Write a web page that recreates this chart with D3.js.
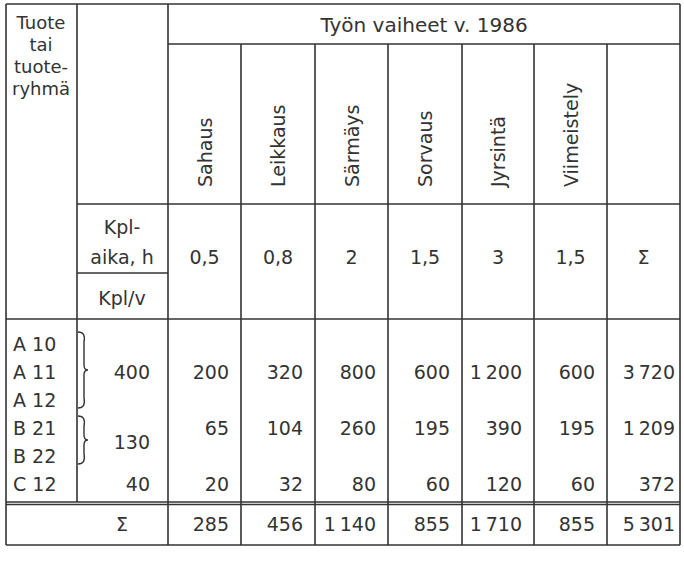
<!DOCTYPE html>
<html>
<head>
    <script src="https://d3js.org/d3.v7.min.js"></script>
    <style>
        body { margin: 0; background: white; }
        text { font-family: "DejaVu Sans", Arial, sans-serif; fill: #333; font-size: 19px; }
        line { stroke: #333; stroke-width: 1.6px; }
    </style>
</head>
<body>
    <script>
        // data
        const phases = ['Sahaus', 'Leikkaus', 'Särmäys', 'Sorvaus', 'Jyrsintä', 'Viimeistely'];
        const unitTimes = ['0,5', '0,8', '2', '1,5', '3', '1,5'];
        const products = ['A 10', 'A 11', 'A 12', 'B 21', 'B 22', 'C 12'];
        const groups = [
            { qty: 400, rows: [0, 2], values: [200, 320, 800, 600, 1200, 600], total: 3720 },
            { qty: 130, rows: [3, 4], values: [65, 104, 260, 195, 390, 195], total: 1209 },
            { qty: 40, rows: [5, 5], values: [20, 32, 80, 60, 120, 60], total: 372 }
        ];
        const sums = [285, 456, 1140, 855, 1710, 855];
        const grandTotal = 5301;

        const width = 684, height = 562;
        const fmt = v => d3.format(',')(v).replace(/,/g, '\u2009');

        const svg = d3.select('body').append('svg')
            .attr('width', width).attr('height', height);

        // column edges
        const colEdges = [168, 241, 315, 388, 462, 534, 607, 680];
        const x = i => (colEdges[i] + colEdges[i + 1]) / 2;
        const L = 6, C1 = 77, T = 4, B = 545;
        const yHead = 44, yMid = 204, yKpl = 273, yData = 319, ySum = 502;
        const rowY = d3.scaleLinear().domain([0, 5]).range([344, 484]);

        const lines = [
            [L, T, 680, T], [L, B, 680, B], [L, T, L, B], [680, T, 680, B],
            [C1, T, C1, ySum], [168, T, 168, B],
            [168, yHead, 680, yHead], [C1, yMid, 680, yMid],
            [C1, yKpl, 168, yKpl], [L, yData, 680, yData],
            [L, ySum, 680, ySum], [L, ySum + 2.5, 680, ySum + 2.5]
        ];
        colEdges.slice(1, -1).forEach(c => lines.push([c, yHead, c, B]));
        svg.selectAll('line').data(lines).enter().append('line')
            .attr('x1', d => d[0]).attr('y1', d => d[1])
            .attr('x2', d => d[2]).attr('y2', d => d[3]);

        const txt = (s, tx, ty, anchor) => svg.append('text')
            .attr('x', tx).attr('y', ty).attr('text-anchor', anchor || 'middle').text(s);

        ['Tuote', 'tai', 'tuote-', 'ryhmä'].forEach((s, i) => txt(s, 41, 29 + i * 22).style('font-size', '18px'));
        txt('Työn vaiheet v. 1986', 424, 32).style('font-size', '20px');

        phases.forEach((p, i) => svg.append('text')
            .attr('transform', `translate(${x(i) + 7},187) rotate(-90)`)
            .text(p));
        unitTimes.concat(['Σ']).forEach((u, i) => txt(u, x(i), 264));
        txt('Kpl-', 122, 234);
        txt('aika, h', 122, 264);
        txt('Kpl/v', 122, 305);

        products.forEach((p, i) => txt(p, 13, rowY(i) + 7, 'start'));

        groups.forEach(g => {
            const yc = (rowY(g.rows[0]) + rowY(g.rows[1])) / 2 + 7;
            txt(g.qty, 150, yc, 'end');
            g.values.concat([g.total]).forEach((v, i) =>
                txt(fmt(v), colEdges[i + 1] - (i === 6 ? 5 : 12), g.rows[0] === 3 ? rowY(3) + 7 : yc, 'end'));
            if (g.rows[0] !== g.rows[1]) {
                const y0 = rowY(g.rows[0]) - 12, y1 = rowY(g.rows[1]) + 8, ym = (y0 + y1) / 2;
                svg.append('path')
                    .attr('d', `M78,${y0} Q86,${y0} 84,${y0 + 10} L84,${ym - 5} Q84,${ym} 88,${ym} Q84,${ym} 84,${ym + 5} L84,${y1 - 10} Q86,${y1} 78,${y1}`)
                    .attr('fill', 'none').attr('stroke', '#333').attr('stroke-width', 1.4);
            }
        });

        txt('Σ', 122, 531);
        sums.concat([grandTotal]).forEach((v, i) => txt(fmt(v), colEdges[i + 1] - (i === 6 ? 5 : 12), 531, 'end'));
    </script>
</body>
</html>
